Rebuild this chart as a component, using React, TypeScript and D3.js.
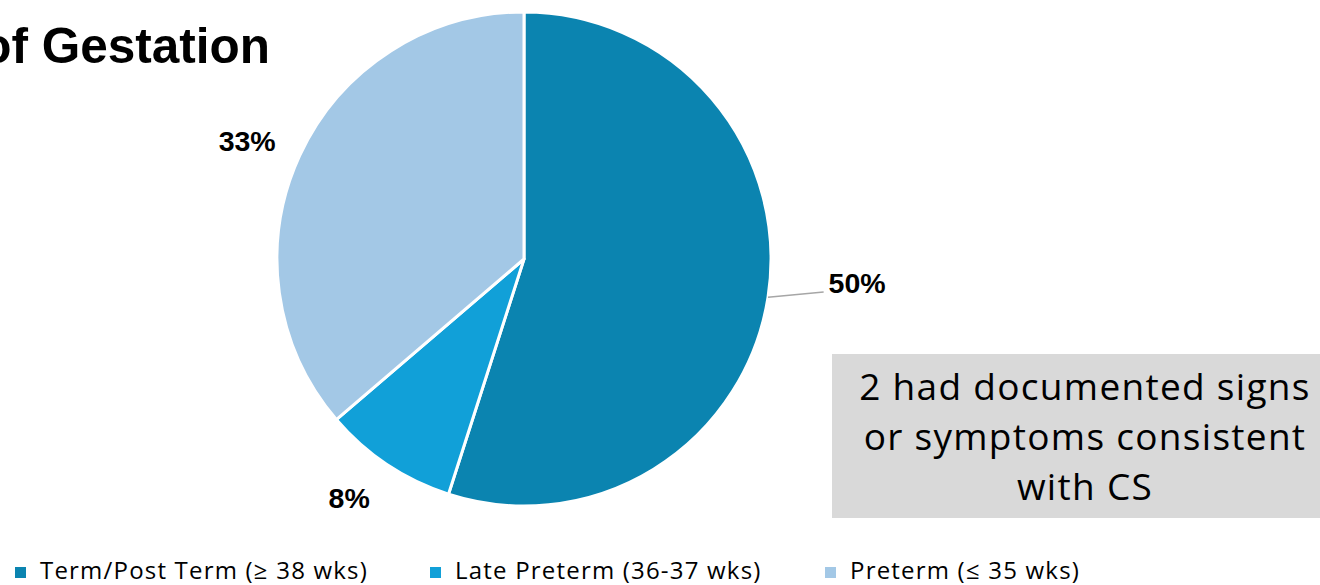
import React, { useEffect, useRef } from 'react';
import * as d3 from 'd3';

// Gestational age groups and their shares (%)
const categories = ['Term/Post Term (≥ 38 wks)', 'Late Preterm (36-37 wks)', 'Preterm (≤ 35 wks)'];
const shares = [50, 8, 33];
const shareLabels = shares.map((v) => `${v}%`);
const sliceColors = ['#0B84B0', '#11A0D8', '#A3C8E6'];

const titleText = 'of Gestation';
const noteLines = ['2 had documented signs', 'or symptoms consistent', 'with CS'];

// layout
const W = 1320;
const H = 585;
const cx = 524;
const cy = 259;
const radius = 247;
// label placement (polar, degrees clockwise from 12 o'clock) and whether a leader line is drawn
const labelPlacement = [
  { angle: 94.1, r: 334, leader: true },
  { angle: 216.2, r: 296, leader: false },
  { angle: 293.1, r: 301, leader: false },
];
const legendX = [15, 430, 825];

export default function App() {
  const ref = useRef<SVGSVGElement | null>(null);

  useEffect(() => {
    const svg = d3.select(ref.current);
    svg.selectAll('*').remove();

    svg.append('rect').attr('width', W).attr('height', H).attr('fill', '#ffffff');

    // title (runs off the left edge)
    svg
      .append('text')
      .attr('x', 270)
      .attr('y', 63)
      .attr('text-anchor', 'end')
      .attr('font-family', '"Liberation Sans", Arial, sans-serif')
      .attr('font-weight', 'bold')
      .attr('font-size', 49.5)
      .attr('fill', '#000')
      .text(titleText);

    const pie = d3
      .pie<number>()
      .sort(null)
      .value((d) => d)
      .startAngle(0)
      .endAngle(2 * Math.PI);
    const arcs = pie(shares);
    const arc = d3.arc<d3.PieArcDatum<number>>().innerRadius(0).outerRadius(radius);

    const g = svg.append('g').attr('transform', `translate(${cx},${cy})`);
    g.selectAll('path.slice')
      .data(arcs)
      .enter()
      .append('path')
      .attr('class', 'slice')
      .attr('d', arc)
      .attr('fill', (_d, i) => sliceColors[i])
      .attr('stroke', '#ffffff')
      .attr('stroke-width', 3)
      .attr('stroke-linejoin', 'round');

    const polar = (deg: number, r: number): [number, number] => {
      const a = (deg * Math.PI) / 180;
      return [r * Math.sin(a), -r * Math.cos(a)];
    };

    arcs.forEach((d, i) => {
      const p = labelPlacement[i];
      const [lx, ly] = polar(p.angle, p.r);
      const t = g
        .append('text')
        .attr('x', lx)
        .attr('y', ly + 10)
        .attr('text-anchor', 'middle')
        .attr('font-family', '"Liberation Sans", Arial, sans-serif')
        .attr('font-weight', 'bold')
        .attr('font-size', 28.5)
        .attr('fill', '#000')
        .text(shareLabels[i]);
      if (p.leader) {
        const mid = (d.startAngle + d.endAngle) / 2;
        const sx = radius * Math.sin(mid);
        const sy = -radius * Math.cos(mid);
        const tw = (t.node() as SVGTextElement).getComputedTextLength();
        g.append('line')
          .attr('x1', sx)
          .attr('y1', sy)
          .attr('x2', lx - tw / 2 - 5)
          .attr('y2', ly + 9)
          .attr('stroke', '#a6a6a6')
          .attr('stroke-width', 1.5);
      }
    });

    // note box
    svg.append('rect').attr('x', 832).attr('y', 354).attr('width', 500).attr('height', 164).attr('fill', '#D9D9D9');
    noteLines.forEach((line, i) => {
      svg
        .append('text')
        .attr('x', 1085)
        .attr('y', 400 + i * 50)
        .attr('text-anchor', 'middle')
        .attr('font-family', '"Open Sans", sans-serif')
        .attr('font-size', 37)
        .attr('letter-spacing', 1.3)
        .attr('fill', '#000')
        .text(line);
    });

    // legend
    const lg = svg.append('g');
    categories.forEach((c, i) => {
      lg.append('rect')
        .attr('x', legendX[i])
        .attr('y', 567)
        .attr('width', 11)
        .attr('height', 11)
        .attr('fill', sliceColors[i]);
      lg.append('text')
        .attr('x', legendX[i] + 25)
        .attr('y', 579)
        .attr('font-family', '"Open Sans", sans-serif')
        .attr('font-size', 24)
        .attr('letter-spacing', 1.2)
        .attr('fill', '#000')
        .text(c);
    });
  }, []);

  return (
    <svg
      ref={ref}
      width={W}
      height={H}
      style={{ position: 'absolute', left: 0, top: 0, display: 'block' }}
    />
  );
}
